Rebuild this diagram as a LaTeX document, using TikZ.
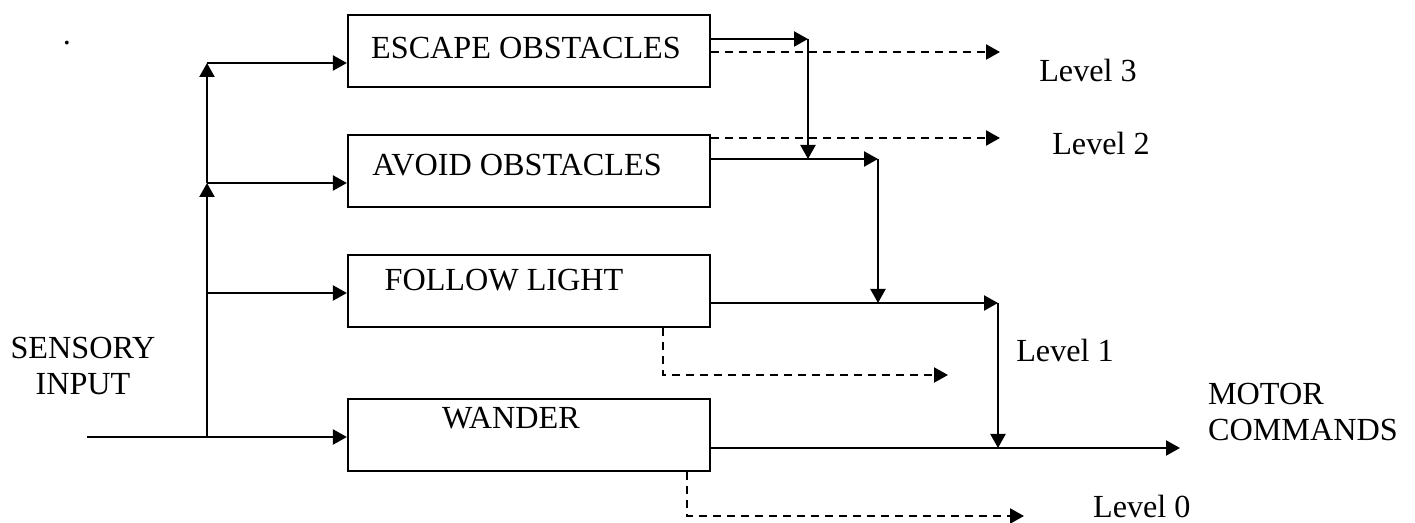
\documentclass[tikz,border=0pt]{standalone}
\usepackage{fontspec}
\setmainfont{Liberation Serif}
\usetikzlibrary{arrows.meta}
\begin{document}
\begin{tikzpicture}[x=0.5pt,y=-0.5pt,line width=1.1pt,
  >={Triangle[length=7pt,width=7.5pt]},
  box/.style={draw,minimum width=181pt,minimum height=36pt,inner sep=0pt},
  txt/.style={font=\fontsize{16.1}{18}\selectfont,inner sep=0pt},
  dashline/.style={dash pattern=on 4pt off 3pt}]
\useasboundingbox (0,0) rectangle (1415,523);
% boxes
\node[box] (esc) at (529,51) {};
\node[box] (avo) at (529,171) {};
\node[box] (fol) at (529,291) {};
\node[box] (wan) at (529,435) {};
\node[txt] (tesc) at (526,48) {ESCAPE OBSTACLES};
\node[txt] (tavo) at (517,165) {AVOID OBSTACLES};
\node[txt] (tfol) at (504,280) {FOLLOW LIGHT};
\node[txt] (twan) at (511,418) {WANDER};
% side labels
\node[txt] (dot) at (67,43) {.};
\node[txt,align=center] (sens) at (83,366) {SENSORY\\INPUT};
\node[txt,align=left,anchor=west] (motor) at (1207,412) {MOTOR\\COMMANDS};
\node[txt] (l3) at (1088,70) {Level 3};
\node[txt] (l2) at (1101,143) {Level 2};
\node[txt] (l1) at (1065,350) {Level 1};
\node[txt,anchor=base west] (l0) at (1092,518) {Level 0};
% input trunk
\coordinate (in) at (87,437);
\coordinate (j0) at (207,437);
\coordinate (j1) at (207,293);
\coordinate (j2) at (207,183);
\coordinate (j3) at (207,63);
\draw[->] (in) -- (j0 -| wan.west);
\draw[->] (j0) -- (j2);
\draw[->] (j2) -- (j3);
\draw[->] (j3) -- (j3 -| esc.west);
\draw[->] (j2) -- (j2 -| avo.west);
\draw[->] (j1) -- (j1 -| fol.west);
% outputs
\coordinate (e1) at (808,39);
\coordinate (a1) at (878,159);
\coordinate (f1) at (998,303);
\coordinate (m1) at (1180,448);
\draw[->] (esc.east |- e1) -- (e1);
\draw[->] (e1) -- (e1 |- a1);
\draw[->] (avo.east |- a1) -- (a1);
\draw[->] (a1) -- (a1 |- f1);
\draw[->] (fol.east |- f1) -- (f1);
\draw[->] (f1) -- (f1 |- m1);
\draw[->] (wan.east |- m1) -- (m1);
% dashed level outputs
\coordinate (d3) at (1000,52);
\coordinate (d2) at (1000,138);
\coordinate (d1a) at (663,375);
\coordinate (d1) at (948,375);
\coordinate (d0a) at (687,516);
\coordinate (d0) at (1024,516);
\draw[->,dashline] (esc.east |- d3) -- (d3);
\draw[->,dashline] (avo.east |- d2) -- (d2);
\draw[->,dashline] (d1a |- fol.south) -- (d1a) -- (d1);
\draw[->,dashline] (d0a |- wan.south) -- (d0a) -- (d0);
\end{tikzpicture}
\end{document}
